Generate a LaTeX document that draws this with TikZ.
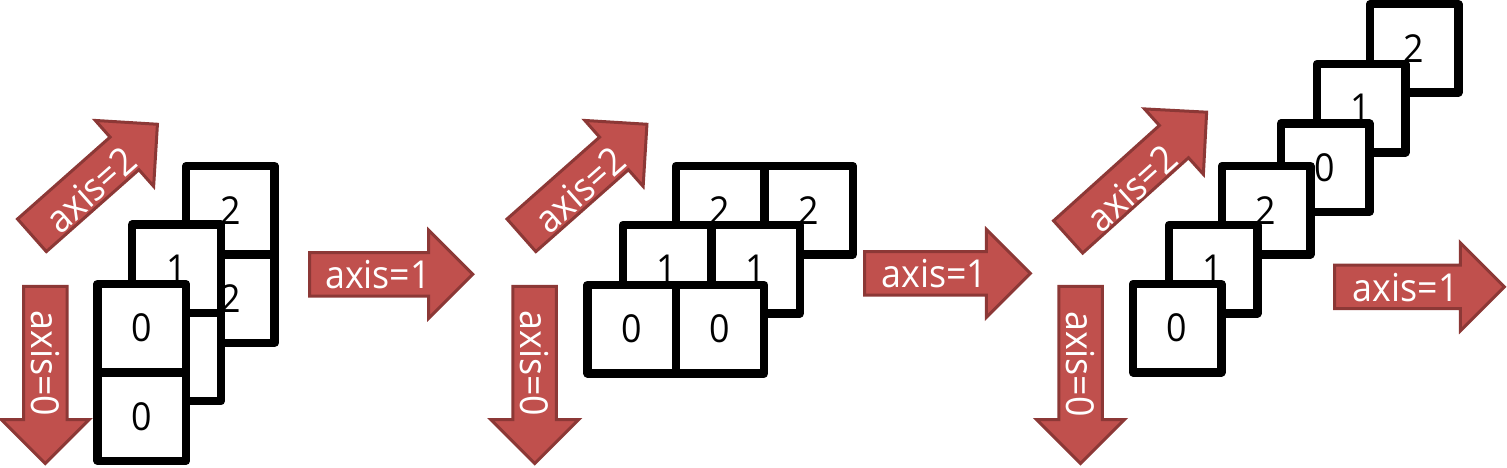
\documentclass[tikz,border=0pt]{standalone}
\usepackage{fontspec}
\setmainfont[FakeStretch=0.93]{Open Sans}
\usetikzlibrary{shapes.arrows}
\definecolor{arrowred}{RGB}{192,80,77}
\definecolor{arrowedge}{RGB}{140,56,54}
\newcommand{\digitfont}{\fontsize{38.5}{46}\selectfont}
\begin{document}
\begin{tikzpicture}[x=1pt,y=-1pt,
  cell/.style={rectangle, draw=black, fill=white, line width=8.3pt, line join=round,
    minimum size=88.4pt, inner sep=0pt, font=\digitfont},
  blockarrow/.style={single arrow, draw=arrowedge, fill=arrowred, line width=3pt,
    minimum width=85pt, single arrow head extend=22.25pt, single arrow tip angle=90,
    inner xsep=0pt, inner ysep=20.25pt, anchor=tail},
  arrowtext/.style={text=white, font=\digitfont, inner sep=0pt}]
\useasboundingbox (0,0) rectangle (1507,468);

% ---------------- panel 1 ----------------
\node[cell] (p1b1) at (230.4,210.2) {2};
\node[cell] (p1b2) at (230.4,298.6) {2};
\node[cell] (p1m1) at (176.5,268.7) {1};
\node[cell] (p1m2) at (176.5,357.1) {1};
\node[cell] (p1f1) at (141.7,328.2) {0};
\node[cell] (p1f2) at (141.7,416.6) {0};

\node[blockarrow, minimum height=177.2pt, rotate=-90] (p1down) at (45.3,284.8) {};
\node[arrowtext, anchor=base, rotate=-90] (p1downt) at (31.5,363.4) {axis=0};
\node[blockarrow, minimum height=167.6pt, rotate=41.5] (p1diag) at (30.8,236.3) {};
\node[arrowtext, rotate=41.5] (p1diagt) at (90.5,189.9) {axis=2};
\node[blockarrow, minimum height=163pt] (p1right) at (308.2,274.3) {};
\node[arrowtext, anchor=base] (p1rightt) at (378,288.3) {axis=1};

% ---------------- panel 2 ----------------
\node[cell] (p2b1) at (720.2,210.2) {2};
\node[cell] (p2b2) at (808.6,210.2) {2};
\node[cell] (p2m1) at (667.2,269.2) {1};
\node[cell] (p2m2) at (755.6,269.2) {1};
\node[cell] (p2f1) at (631.7,329.2) {0};
\node[cell] (p2f2) at (720.1,329.2) {0};

\node[blockarrow, minimum height=177.2pt, rotate=-90] (p2down) at (534.7,284.8) {};
\node[arrowtext, anchor=base, rotate=-90] (p2downt) at (520.9,363.4) {axis=0};
\node[blockarrow, minimum height=167.6pt, rotate=41.5] (p2diag) at (520.3,236.3) {};
\node[arrowtext, rotate=41.5] (p2diagt) at (580,189.9) {axis=2};
\node[blockarrow, minimum height=165.7pt] (p2right) at (863.2,273.4) {};
\node[arrowtext, anchor=base] (p2rightt) at (934.3,287.2) {axis=1};

% ---------------- panel 3 ----------------
\node[cell] (p3f) at (1414.2,48.4) {2};
\node[cell] (p3e) at (1361.2,108.2) {1};
\node[cell] (p3d) at (1325.2,167.7) {0};
\node[cell] (p3c) at (1266.2,210.2) {2};
\node[cell] (p3b) at (1213.2,269.2) {1};
\node[cell] (p3a) at (1177.2,328.2) {0};

\node[blockarrow, minimum height=177.2pt, rotate=-90] (p3down) at (1080.5,284.8) {};
\node[arrowtext, anchor=base, rotate=-90] (p3downt) at (1066.7,364) {axis=0};
\node[blockarrow, minimum height=186.4pt, rotate=42] (p3diag) at (1067,237.9) {};
\node[arrowtext, rotate=42] (p3diagt) at (1131.7,188.3) {axis=2};
\node[blockarrow, minimum height=169.7pt] (p3right) at (1333.2,286.8) {};
\node[arrowtext, anchor=base] (p3rightt) at (1405.8,301) {axis=1};
\end{tikzpicture}
\end{document}
